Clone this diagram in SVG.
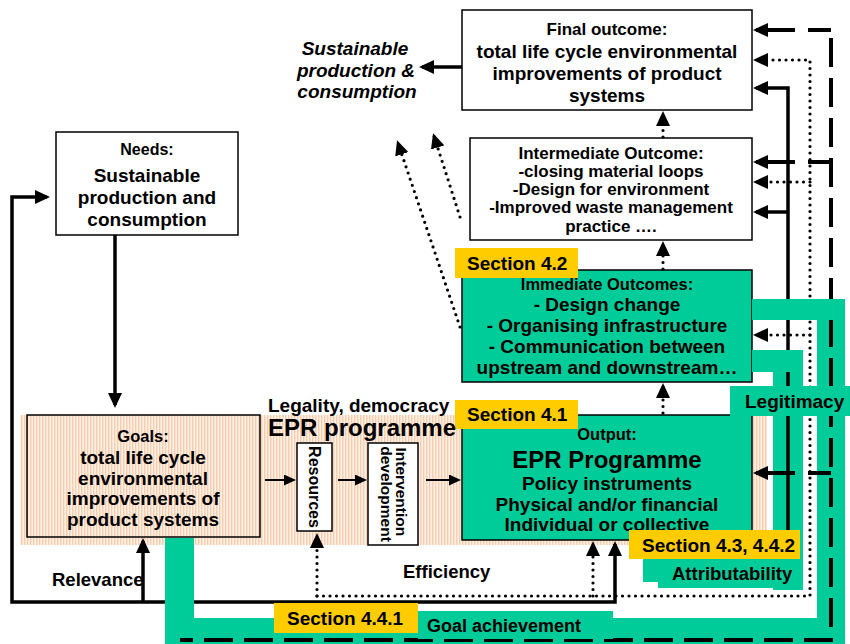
<svg xmlns="http://www.w3.org/2000/svg" width="850" height="644" viewBox="0 0 850 644">
  <style>
    .t { font-family: "Liberation Sans", Arial, sans-serif; font-weight: bold; fill: #000; }
    .c { text-anchor: middle; }
    .box { stroke: #000; stroke-width: 1.5; }
    .white { fill: #fff; }
    .green { fill: #00CC99; }
    .yellow { fill: #FFCC00; }
    .solid { fill: none; stroke: #000; stroke-width: 3.5; }
    .thin { fill: none; stroke: #000; stroke-width: 2; }
    .dot { fill: none; stroke: #000; stroke-width: 3.2; stroke-dasharray: 0 6.5; stroke-linecap: round; }
    .dash { fill: none; stroke: #000; stroke-width: 4; stroke-dasharray: 29 11; }
    .dashend { fill: none; stroke: #000; stroke-width: 4; stroke-dasharray: 23 13 200; }
  </style>
  <defs>
    <pattern id="stripes" width="3" height="10" patternUnits="userSpaceOnUse">
      <rect width="3" height="10" fill="#FFF1E6"/>
      <rect width="1.4" height="10" fill="#F8CDAE"/>
    </pattern>
    <marker id="ah" markerUnits="userSpaceOnUse" markerWidth="15" markerHeight="14" viewBox="0 0 15 14" refX="12" refY="7" orient="auto">
      <path d="M0,0 L15,7 L0,14 Z" fill="#000"/>
    </marker>
    <marker id="ahs" markerUnits="userSpaceOnUse" markerWidth="12" markerHeight="11" viewBox="0 0 12 11" refX="10" refY="5.5" orient="auto">
      <path d="M0,0 L12,5.5 L0,11 Z" fill="#000"/>
    </marker>
  </defs>

  <!-- programme band behind goals, resources and output -->
  <rect x="20" y="415" width="747" height="130" fill="url(#stripes)"/>

  <!-- nodes -->
  <g id="final-outcome">
    <rect class="box white" x="462" y="10" width="290" height="100"/>
    <text class="t c" x="607" y="35" font-size="17">Final outcome:</text>
    <text class="t c" x="607" y="58" font-size="19">total life cycle environmental</text>
    <text class="t c" x="607" y="80" font-size="19">improvements of product</text>
    <text class="t c" x="607" y="102" font-size="19">systems</text>
  </g>

  <g id="intermediate-outcome">
    <rect class="box white" x="470" y="138" width="282" height="102"/>
    <text class="t c" x="611" y="159" font-size="17">Intermediate Outcome:</text>
    <text class="t c" x="611" y="177" font-size="17">-closing material loops</text>
    <text class="t c" x="611" y="195" font-size="17">-Design for environment</text>
    <text class="t c" x="611" y="213" font-size="17">-Improved waste management</text>
    <text class="t c" x="611" y="232" font-size="17">practice ….</text>
  </g>

  <g id="immediate-outcomes">
    <rect class="box green" x="462" y="270" width="290" height="112"/>
    <text class="t c" x="607" y="290" font-size="16.5">Immediate Outcomes:</text>
    <text class="t c" x="607" y="311" font-size="19">- Design change</text>
    <text class="t c" x="607" y="332" font-size="19">- Organising infrastructure</text>
    <text class="t c" x="607" y="353" font-size="19">- Communication between</text>
    <text class="t c" x="607" y="374" font-size="19">upstream and downstream…</text>
  </g>

  <g id="output">
    <rect class="box green" x="462" y="415" width="290" height="125" stroke-width="2"/>
    <text class="t c" x="607" y="440" font-size="16.5">Output:</text>
    <text class="t c" x="607" y="468" font-size="24">EPR Programme</text>
    <text class="t c" x="607" y="490" font-size="19">Policy instruments</text>
    <text class="t c" x="607" y="511" font-size="19">Physical and/or financial</text>
    <text class="t c" x="607" y="531" font-size="19">Individual or collective</text>
  </g>

  <g id="goals">
    <rect class="box" x="27" y="415" width="233" height="122" fill="url(#stripes)"/>
    <text class="t c" x="143" y="442" font-size="16.5">Goals:</text>
    <text class="t c" x="143" y="464" font-size="19">total life cycle</text>
    <text class="t c" x="143" y="485" font-size="19">environmental</text>
    <text class="t c" x="143" y="505" font-size="19">improvements of</text>
    <text class="t c" x="143" y="526" font-size="19">product systems</text>
  </g>

  <g id="resources">
    <rect class="box white" x="297" y="443" width="35" height="88"/>
    <text class="t c" transform="translate(308.5,487) rotate(90)" font-size="16">Resources</text>
  </g>

  <g id="intervention">
    <rect class="box white" x="368" y="443" width="50" height="102"/>
    <text class="t c" transform="translate(396,494) rotate(90)" font-size="15.5">
      <tspan x="0" y="0">Intervention</tspan>
      <tspan x="0" y="15">development</tspan>
    </text>
  </g>

  <g id="needs">
    <rect class="box white" x="56" y="132" width="182" height="103"/>
    <text class="t c" x="147" y="155" font-size="16">Needs:</text>
    <text class="t c" x="147" y="182" font-size="19">Sustainable</text>
    <text class="t c" x="147" y="204" font-size="19">production and</text>
    <text class="t c" x="147" y="226" font-size="19">consumption</text>
  </g>

  <!-- evaluation bands lying under the connectors -->
  <g id="bands-under">
    <rect class="green" x="817" y="299" width="28" height="345"/>
    <rect class="green" x="773" y="350" width="30" height="240"/>
    <rect class="green" x="165" y="618" width="680" height="26"/>
    <rect class="green" x="165" y="538" width="29" height="106"/>
  </g>

  <!-- connectors -->
  <g id="connectors">
    <!-- solid -->
    <path class="solid" d="M115,235 V405" marker-end="url(#ah)"/>
    <path class="solid" d="M165,602 H12 V197 H47" marker-end="url(#ah)"/>
    <path class="solid" d="M143,602 V541" marker-end="url(#ah)"/>
    <path class="solid" d="M194,602 H615 V544" marker-end="url(#ah)"/>
    <path class="solid" d="M788,545 V88 H756" marker-end="url(#ah)"/>
    <path class="solid" d="M788,212 H756" marker-end="url(#ah)"/>
    <path class="solid" d="M462,67 H422" marker-end="url(#ah)"/>
    <!-- programme chain -->
    <path class="thin" d="M265,480 H294" marker-end="url(#ahs)"/>
    <path class="thin" d="M338,480 H365" marker-end="url(#ahs)"/>
    <path class="thin" d="M426,480 H459" marker-end="url(#ahs)"/>
    <!-- dotted -->
    <path class="dot" d="M317,596 V536" marker-end="url(#ah)"/>
    <path class="dot" d="M317,596 H810 V60 H756" marker-end="url(#ah)"/>
    <path class="dot" d="M810,182 H756" marker-end="url(#ah)"/>
    <path class="dot" d="M810,335 H756" marker-end="url(#ah)"/>
    <path class="dot" d="M593,596 V544" marker-end="url(#ah)"/>
    <path class="dot" d="M663,137 V114" marker-end="url(#ah)"/>
    <path class="dot" d="M663,269 V244" marker-end="url(#ah)"/>
    <path class="dot" d="M663,413 V386" marker-end="url(#ah)"/>
    <path class="dot" d="M460,327 L398,143" marker-end="url(#ah)"/>
    <path class="dot" d="M460,217 L434,136" marker-end="url(#ah)"/>
    <!-- dashed -->
    <path class="dash" d="M831,38 V640 H180"/>
    <path class="dashend" d="M831,30 H756" marker-end="url(#ah)"/>
    <path class="dashend" d="M831,162 H756" marker-end="url(#ah)"/>
    <path class="dashend" d="M831,473 H756" marker-end="url(#ah)"/>
  </g>

  <!-- evaluation bands and labels lying over the connectors -->
  <g id="legitimacy">
    <rect class="green" x="752" y="299" width="93" height="21"/>
    <rect class="green" x="752" y="350" width="51" height="22"/>
    <rect class="green" x="730" y="386" width="120" height="30"/>
    <text class="t" x="745" y="408" font-size="19">Legitimacy</text>
  </g>

  <g id="attributability">
    <rect class="green" x="643" y="558" width="160" height="24"/>
    <rect class="green" x="658" y="558" width="145" height="30"/>
    <text class="t" x="672" y="580" font-size="18.5">Attributability</text>
  </g>

  <g id="goal-achievement">
    <rect class="green" x="418" y="611" width="195" height="28"/>
    <text class="t" x="427" y="632" font-size="18">Goal achievement</text>
  </g>

  <g id="sections">
    <rect class="yellow" x="455" y="248" width="123" height="30"/>
    <text class="t" x="467" y="270" font-size="19">Section 4.2</text>
    <rect class="yellow" x="455" y="400" width="123" height="29"/>
    <text class="t" x="467" y="421" font-size="19">Section 4.1</text>
    <rect class="yellow" x="629" y="530" width="171" height="29"/>
    <text class="t" x="642" y="552" font-size="19">Section 4.3, 4.4.2</text>
    <rect class="yellow" x="274" y="603" width="144" height="30"/>
    <text class="t" x="287" y="625" font-size="19">Section 4.4.1</text>
  </g>

  <!-- free labels -->
  <g id="labels">
    <text class="t c" x="355" y="55" font-size="19" font-style="italic">Sustainable</text>
    <text class="t c" x="356" y="77" font-size="19" font-style="italic">production &amp;</text>
    <text class="t c" x="357" y="98" font-size="19" font-style="italic">consumption</text>
    <text class="t" x="268" y="412" font-size="19">Legality, democracy</text>
    <text class="t" x="268" y="436" font-size="24">EPR programme</text>
    <text class="t" x="403" y="578" font-size="18.5">Efficiency</text>
    <text class="t" x="52" y="586" font-size="18.5">Relevance</text>
  </g>
</svg>
